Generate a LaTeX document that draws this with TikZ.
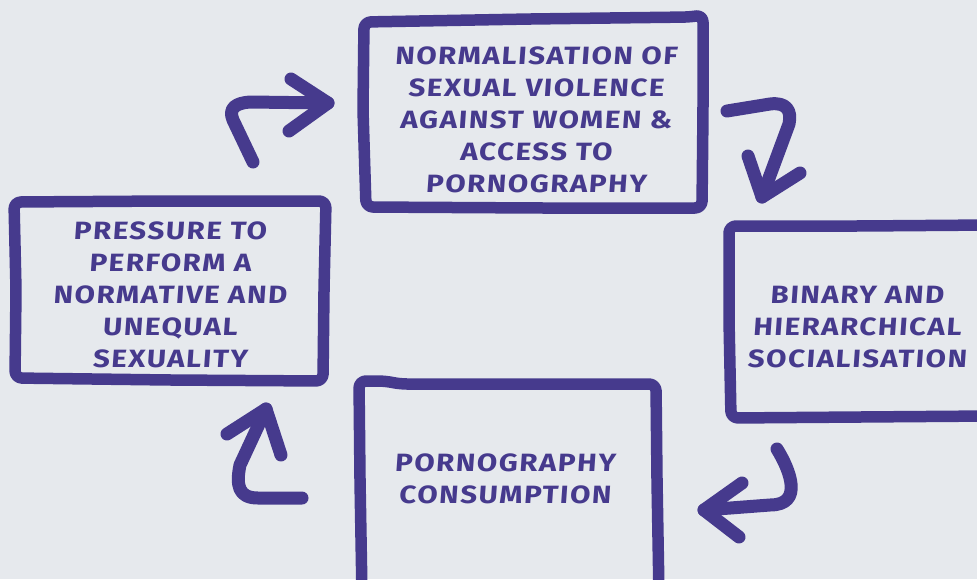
\documentclass[tikz,border=0pt]{standalone}
\usepackage{fontspec}
\newfontfamily\handfont{Fira Sans}[LetterSpace=6,FakeStretch=1.18,FakeSlant=0.07]
\definecolor{paper}{HTML}{E6E9ED}
\definecolor{ink}{HTML}{463A8D}
\begin{document}
\begin{tikzpicture}[x=1pt,y=-1pt,
  frame/.style={draw=ink,line width=11.5pt,line join=round,line cap=round,rounded corners=7pt},
  label/.style={text=ink,align=center,font=\handfont\bfseries\fontsize{25}{32}\selectfont,inner sep=0pt},
  sketcharrow/.style={draw=ink,line width=13pt,line cap=round,line join=round}]
  % canvas
  \fill[paper] (0,0) rectangle (977,579);
  \useasboundingbox (0,0) rectangle (977,579);

  % hand-drawn frames
  \draw[frame] (364,22) -- (530,19) -- (690,17) -- (703,15) -- (703,110) -- (702,208)
               -- (540,208) -- (366,207) -- (363,110) -- cycle;
  \draw[frame] (14,202) -- (170,201) -- (326,201) -- (324,290) -- (323,381)
               -- (170,380) -- (15,378) -- (16,290) -- cycle;
  \draw[frame] (729,226) -- (860,226) -- (990,225) -- (990,416)
               -- (860,417) -- (731,418) -- (729,320) -- cycle;
  \draw[frame] (359,381) -- (385,381) -- (400,384) -- (656,384) -- (657,480) -- (659,595)
               -- (362,595) -- (360,480) -- cycle;

  % texts
  \node[label] (norm) at (536,120) {NORMALISATION OF\\SEXUAL VIOLENCE\\AGAINST WOMEN \&\\ACCESS TO\\PORNOGRAPHY};
  \node[label] (press) at (170,295) {PRESSURE TO\\PERFORM A\\NORMATIVE AND\\UNEQUAL\\SEXUALITY};
  \node[label] (binary) at (857,327) {BINARY AND\\HIERARCHICAL\\SOCIALISATION};
  \node[label] (porn) at (505,479) {PORNOGRAPHY\\CONSUMPTION};

  % cycle arrows
  \coordinate (a1) at (328,103);
  \draw[sketcharrow] (253,162) -- (233,120) .. controls (228,108) and (236,103) .. (250,102) -- (a1);
  \draw[sketcharrow] (291,79) -- (a1) -- (289,131);

  \coordinate (a2) at (762,197);
  \draw[sketcharrow] (727,111) -- (770,104) .. controls (786,102) and (792,110) .. (789,124) -- (a2);
  \draw[sketcharrow] (748,156) -- (a2) -- (800,173);

  \coordinate (a3) at (704,510);
  \draw[sketcharrow] (777,449) .. controls (790,470) and (804,505) .. (770,505) -- (a3);
  \draw[sketcharrow] (742,483) -- (a3) -- (739,537);

  \coordinate (a4) at (266,409);
  \draw[sketcharrow] (302,498) -- (258,498) .. controls (238,498) and (236,485) .. (240,465) -- (a4);
  \draw[sketcharrow] (227,434) -- (a4) -- (281,455);
\end{tikzpicture}
\end{document}
